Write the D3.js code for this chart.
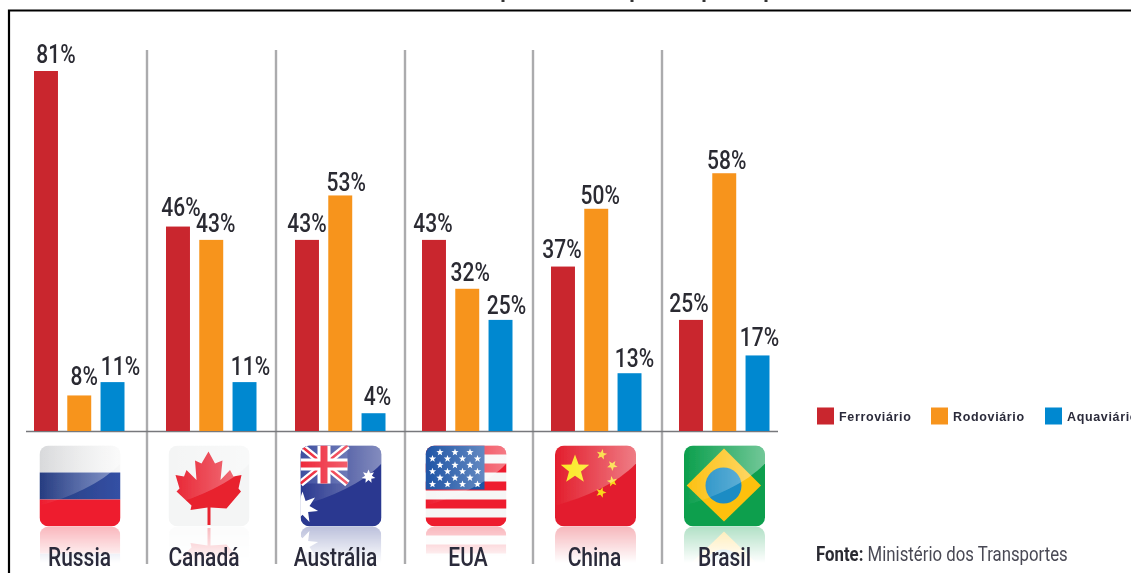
<!DOCTYPE html>
<html><head><meta charset="utf-8">
<script src="https://cdn.jsdelivr.net/npm/d3@7"></script>
<style>html,body{margin:0;padding:0;background:#fff}svg{display:block}</style>
</head><body><div id="c"></div>
<script>
const categories=["Rússia","Canadá","Austrália","EUA","China","Brasil"];
const seriesNames=["Ferroviário","Rodoviário","Aquaviário"];
const ferroviario=[81,46,43,43,37,25];
const rodoviario=[8,43,53,32,50,58];
const aquaviario=[11,11,4,25,13,17];
const seriesColors=["#c9252d","#f7941e","#0088d0"];
const sourceBold="Fonte:";
const sourceText="Ministério dos Transportes";
// layout only: label offsets from the bar centre / default height
const labelDx=[[10,3,0,-1,-1,-2],[5,4.5,6,3,4,2.5],[8,6,4,6,5,2]];
const labelDy=[[0,-3,0,0,-1,0],[-2,0,4,0,3,4],[1,1,0,2,2,-1]];
const clippedTitleMarks=[503,632,704,766];
const W=1131,H=573;
const values=[ferroviario,rodoviario,aquaviario];
const svg=d3.select("#c").append("svg").attr("width",W).attr("height",H);
const defs=svg.append("defs");
defs.append("filter").attr("id","soft").attr("x","-5%").attr("y","-5%").attr("width","110%").attr("height","110%")
 .append("feGaussianBlur").attr("stdDeviation",0.4);
const gl=defs.append("linearGradient").attr("id","gloss").attr("x1",0).attr("x2",1).attr("y1",0).attr("y2",0);
gl.append("stop").attr("offset",0).attr("stop-color","#fff").attr("stop-opacity",0);
gl.append("stop").attr("offset",1).attr("stop-color","#fff").attr("stop-opacity",.42);
// reflection fade (in flipped flag coordinates: y=1 is next to the flag)
const fr=defs.append("linearGradient").attr("id","fadeR").attr("x1",0).attr("x2",0).attr("y1",1).attr("y2",0);
fr.append("stop").attr("offset",0).attr("stop-color","#fff").attr("stop-opacity",.32);
fr.append("stop").attr("offset",.45).attr("stop-color","#fff").attr("stop-opacity",0);
defs.append("mask").attr("id","reflMask").attr("maskUnits","userSpaceOnUse").attr("x",0).attr("y",0).attr("width",81).attr("height",81)
 .append("rect").attr("width",81).attr("height",81).attr("fill","url(#fadeR)");

const y=d3.scaleLinear().domain([0,81]).range([431,71]);
const groupX=d3.scaleOrdinal().domain(categories).range([34,166,295,422,551,679]);
const inner=d3.scaleBand().domain(seriesNames).range([0,90.5]).paddingInner(.28).paddingOuter(0);
const dividerX=d3.scaleOrdinal().domain(categories.slice(1)).range([147,276,405,533,662]);
const flagX=d3.scaleOrdinal().domain(categories).range([39.5,168.5,300.5,425.5,555,684]);
const labelX=d3.scaleOrdinal().domain(categories).range([79.5,204,335.5,468,594.5,724.5]);
const color=d3.scaleOrdinal().domain(seriesNames).range(seriesColors);
const SX=.84;
const cond=(sel,x,yy)=>sel.attr("transform",`translate(${x},${yy}) scale(${SX},1)`);

// frame
svg.append("path").attr("d",`M9,${H}V10.5H${W}`).attr("fill","none").attr("stroke","#000").attr("stroke-width",2.2);
// remnants of the title, which the reference crops away at the top edge
svg.selectAll("rect.tm").data(clippedTitleMarks).join("rect").attr("class","tm")
 .attr("x",d=>d-1.5).attr("y",0).attr("width",3).attr("height",2).attr("fill","#333");
// dividers and baseline
const root=svg.append("g").attr("filter","url(#soft)");
root.selectAll("line.div").data(dividerX.domain()).join("line").attr("class","div")
 .attr("x1",d=>dividerX(d)).attr("x2",d=>dividerX(d)).attr("y1",50).attr("y2",564)
 .attr("stroke","#ababad").attr("stroke-width",2.4);
root.append("line").attr("x1",26).attr("x2",778).attr("y1",431.5).attr("y2",431.5).attr("stroke","#77787b").attr("stroke-width",1.6);

// bars
seriesNames.forEach((s,si)=>{
 root.append("g").selectAll("rect").data(categories).join("rect")
  .attr("x",c=>groupX(c)+inner(s)).attr("width",inner.bandwidth())
  .attr("y",(c,i)=>y(values[si][i])).attr("height",(c,i)=>y(0)-y(values[si][i]))
  .attr("fill",color(s));
});
// value labels
seriesNames.forEach((s,si)=>{
 categories.forEach((c,i)=>{
  const cx=groupX(c)+inner(s)+inner.bandwidth()/2+labelDx[si][i];
  root.append("text").text(values[si][i]+"%")
   .call(cond,cx,y(values[si][i])-8+labelDy[si][i])
   .attr("text-anchor","middle").attr("font-family","Roboto").attr("font-weight",500).attr("font-size",25).attr("fill","#2b2b33");
 });
});
// flags
const R=9,F=81;
function star(cx,cy,r,rot=0,n=5,ratio=.42){
 const p=[];for(let i=0;i<n*2;i++){const a=rot-Math.PI/2+i*Math.PI/n,q=i%2?r*ratio:r;p.push([cx+q*Math.cos(a),cy+q*Math.sin(a)]);}
 return "M"+p.map(d=>d.join(",")).join("L")+"Z";
}
const rect=(g,x,y,w,h,f)=>g.append("rect").attr("x",x).attr("y",y).attr("width",w).attr("height",h).attr("fill",f);
const ru=defs.append("linearGradient").attr("id","ruTop");
ru.append("stop").attr("offset",0).attr("stop-color","#d8d9db");
ru.append("stop").attr("offset",1).attr("stop-color","#f7f7f7");
const ru2=defs.append("linearGradient").attr("id","ruBlue");
ru2.append("stop").attr("offset",0).attr("stop-color","#263c80");
ru2.append("stop").attr("offset",1).attr("stop-color","#3450a4");
const painters={
 "Rússia":g=>{rect(g,0,0,F,27,"url(#ruTop)");rect(g,0,27,F,27,"url(#ruBlue)");rect(g,0,54,F,27,"#ee1c2e");},
 "Canadá":g=>{rect(g,0,0,F,F,"#f4f5f5");
  g.append("path").attr("fill","#e8202f").attr("d","M40,6L46.5,18L54,15L52,34.5L61.5,24.5L65,31L73,29.5L70,43L72.5,46L58,63L42,62L42,79.5L39,79.5L39,62L22,64.5L23,60L8,46L11,43L7,29.5L15.5,31L18,24.5L28,34.5L26.5,15L33,18Z");},
 "Austrália":g=>{rect(g,0,0,F,F,"#2a3990");
  const u=g.append("g");rect(u,0,0,47,38,"#3f4fa0");
  u.append("path").attr("d","M0,0L47,38M47,0L0,38").attr("stroke","#fff").attr("stroke-width",7);
  u.append("path").attr("d","M0,0L47,38M47,0L0,38").attr("stroke","#ee2a3c").attr("stroke-width",2.5);
  rect(u,0,13,47,12,"#fff");rect(u,17,0,13,38,"#fff");rect(u,0,16,47,6,"#ee2a3c");rect(u,20,0,7,38,"#ee2a3c");
  g.append("path").attr("d",star(2,62,16,0,7,.45)).attr("fill","#fff");
  g.append("path").attr("d",star(68,31,7,0,7,.5)).attr("fill","#fff");},
 "EUA":g=>{rect(g,0,0,F,F,"#f6f6f6");
  d3.range(0,9,2).forEach(i=>rect(g,0,i*9,F,9,"#ee1c2e"));
  rect(g,0,0,59,44,"#1f55a6");
  d3.range(6).forEach(r=>d3.range(r%2?4:3).forEach(c=>g.append("path").attr("d",star((r%2?7:14.5)+c*15,6.8+r*6.4,3.8)).attr("fill","#fff")));},
 "China":g=>{rect(g,0,0,F,F,"#e31e2d");
  g.append("path").attr("d",star(20,24,15)).attr("fill","#fbe91e");
  [[46.7,9,.2],[57.3,20,.6],[57.3,36,-.2],[46,47,.3]].forEach(d=>g.append("path").attr("d",star(d[0],d[1],5.5,d[2])).attr("fill","#f9d71c"));},
 "Brasil":g=>{rect(g,0,0,F,F,"#0b9f4d");
  g.append("path").attr("d","M40,3L77,40L40,76L2.7,40Z").attr("fill","#fdc010");
  g.append("circle").attr("cx",39.5).attr("cy",40).attr("r",18).attr("fill","#1a8cc4");}
};
categories.forEach((c,i)=>{
 defs.append("clipPath").attr("id","fc"+i).append("rect").attr("width",F).attr("height",F).attr("rx",R);
 const fx=flagX(c),fy=445.5;
 // reflection
 const rg=svg.append("g").attr("transform",`translate(${fx},${fy+F+F}) scale(1,-1)`).attr("mask","url(#reflMask)");
 const rc=rg.append("g").attr("clip-path",`url(#fc${i})`);
 painters[c](rc);
 // flag
 const g=svg.append("g").attr("transform",`translate(${fx},${fy})`).attr("filter","url(#soft)");
 const cg=g.append("g").attr("clip-path",`url(#fc${i})`);
 painters[c](cg);
 cg.append("path").attr("d",`M0,0H${F}V18C62,38 30,52 0,60Z`).attr("fill","url(#gloss)");
});
// category labels
const tg=svg.append("g").attr("filter","url(#soft)");
categories.forEach(c=>{
 tg.append("text").text(c).call(cond,labelX(c),566).attr("text-anchor","middle")
  .attr("font-family","Roboto").attr("font-weight",500).attr("font-size",25).attr("fill","#2b2b3a");
});
// legend
const legX=d3.scaleOrdinal().domain(seriesNames).range([817,931,1045]);
seriesNames.forEach(s=>{
 tg.append("rect").attr("x",legX(s)).attr("y",407.5).attr("width",17).attr("height",17).attr("fill",color(s));
 tg.append("text").text(s).attr("x",legX(s)+22).attr("y",421).attr("font-family","Liberation Sans")
  .attr("font-weight",700).attr("font-size",12.5).attr("letter-spacing",.65).attr("fill","#2b2b3a");
});
// source
const src=tg.append("text").call(cond,816,561).attr("font-family","Roboto").attr("font-size",20).attr("fill","#4a4a55");
src.append("tspan").text(sourceBold+" ").attr("font-weight",700).attr("fill","#2b2b33");
src.append("tspan").text(sourceText);
</script></body></html>
